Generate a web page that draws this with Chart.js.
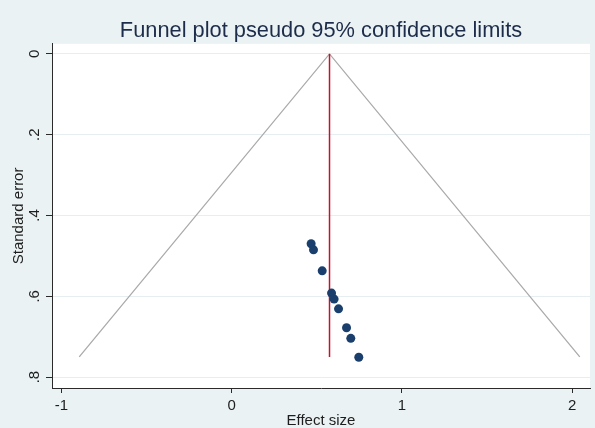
<!DOCTYPE html>
<html>
<head>
<meta charset="utf-8">
<script src="https://cdn.jsdelivr.net/npm/chart.js@4"></script>
<style>
  html, body { margin: 0; padding: 0; background: #eaf2f3; }
  #wrap { width: 595px; height: 428px; position: relative; }
</style>
</head>
<body>
<div id="wrap"><canvas id="funnel"></canvas></div>
<script>
// Study estimates: effect size and its standard error
const effectSize = [0.467, 0.481, 0.532, 0.587, 0.602, 0.628, 0.675, 0.700, 0.747];
const stdError   = [0.470, 0.485, 0.537, 0.592, 0.607, 0.631, 0.678, 0.704, 0.751];

// Pooled effect (vertical reference line) and pseudo 95% limits
const pooledEffect = [0.575, 0.575];
const pooledSE     = [0, 0.75];
const limitEffect  = [-0.895, 0.575, 2.045];
const limitSE      = [0.75, 0, 0.75];

// Axis ticks and their labels
const xTicks = [-1, 0, 1, 2];
const xTickLabels = ['-1', '0', '1', '2'];
const yTicks = [0, 0.2, 0.4, 0.6, 0.8];
const yTickLabels = ['0', '.2', '.4', '.6', '.8'];

const pts = (xs, ys) => xs.map((x, i) => ({ x: x, y: ys[i] }));
const FONT = '"Liberation Sans", Arial, Helvetica, sans-serif';

// White plot region behind grid and marks
const plotRegion = {
  id: 'plotRegion',
  beforeDraw(chart) {
    const { ctx, chartArea: a } = chart;
    ctx.save();
    ctx.fillStyle = '#ffffff';
    ctx.fillRect(a.left, a.top, a.right - a.left, a.bottom - a.top);
    ctx.restore();
  }
};

new Chart(document.getElementById('funnel'), {
  type: 'scatter',
  data: {
    datasets: [
      {
        label: 'limits',
        data: pts(limitEffect, limitSE),
        showLine: true,
        borderColor: '#ababab',
        borderWidth: 1.3,
        pointRadius: 0,
        fill: false,
        order: 3
      },
      {
        label: 'pooled',
        data: pts(pooledEffect, pooledSE),
        showLine: true,
        borderColor: '#c8102e',
        borderWidth: 1.5,
        pointRadius: 0,
        fill: false,
        order: 2
      },
      {
        label: 'studies',
        data: pts(effectSize, stdError),
        backgroundColor: '#1b3f6c',
        borderColor: '#1b3f6c',
        pointRadius: 4.5,
        borderWidth: 0,
        order: 1
      }
    ]
  },
  options: {
    responsive: true,
    maintainAspectRatio: false,
    animation: false,
    events: [],
    layout: { padding: { left: 0, right: 5, top: 0, bottom: 0 } },
    plugins: {
      legend: { display: false },
      tooltip: { enabled: false },
      title: {
        display: true,
        fullSize: false,
        text: 'Funnel plot pseudo 95% confidence limits',
        color: '#1d2c4a',
        font: { family: FONT, size: 21.8, weight: 'normal', lineHeight: 1 },
        padding: { top: 20, bottom: 2 }
      }
    },
    scales: {
      x: {
        type: 'linear',
        min: -1.055,
        max: 2.105,
        afterBuildTicks: s => { s.ticks = xTicks.map(v => ({ value: v })); },
        afterFit: s => { s.height = 40; },
        border: { display: true, color: '#2a2a2a', width: 1 },
        grid: { drawOnChartArea: false, drawTicks: true, tickLength: 5, tickColor: '#2a2a2a' },
        ticks: {
          padding: 4,
          color: '#1e1e1e',
          font: { family: FONT, size: 15 },
          callback: (v) => xTickLabels[xTicks.indexOf(v)]
        },
        title: {
          display: true,
          text: 'Effect size',
          color: '#1e1e1e',
          font: { family: FONT, size: 15, lineHeight: 1 },
          padding: { top: 0, bottom: 0 }
        }
      },
      y: {
        type: 'linear',
        reverse: true,
        min: -0.025,
        max: 0.827,
        afterBuildTicks: s => { s.ticks = yTicks.map(v => ({ value: v })); },
        afterFit: s => { s.width = 52; },
        border: { display: true, color: '#2a2a2a', width: 1 },
        grid: { color: '#e6eef1', lineWidth: 1, drawTicks: true, tickLength: 6, tickColor: '#2a2a2a' },
        ticks: {
          minRotation: 90,
          maxRotation: 90,
          crossAlign: 'center',
          padding: 5,
          color: '#1e1e1e',
          font: { family: FONT, size: 15 },
          callback: (v) => yTickLabels[yTicks.indexOf(v)]
        },
        title: {
          display: true,
          text: 'Standard error',
          color: '#1e1e1e',
          font: { family: FONT, size: 15, lineHeight: 1.2 },
          padding: { top: 10, bottom: 0 }
        }
      }
    }
  },
  plugins: [plotRegion]
});
</script>
</body>
</html>
